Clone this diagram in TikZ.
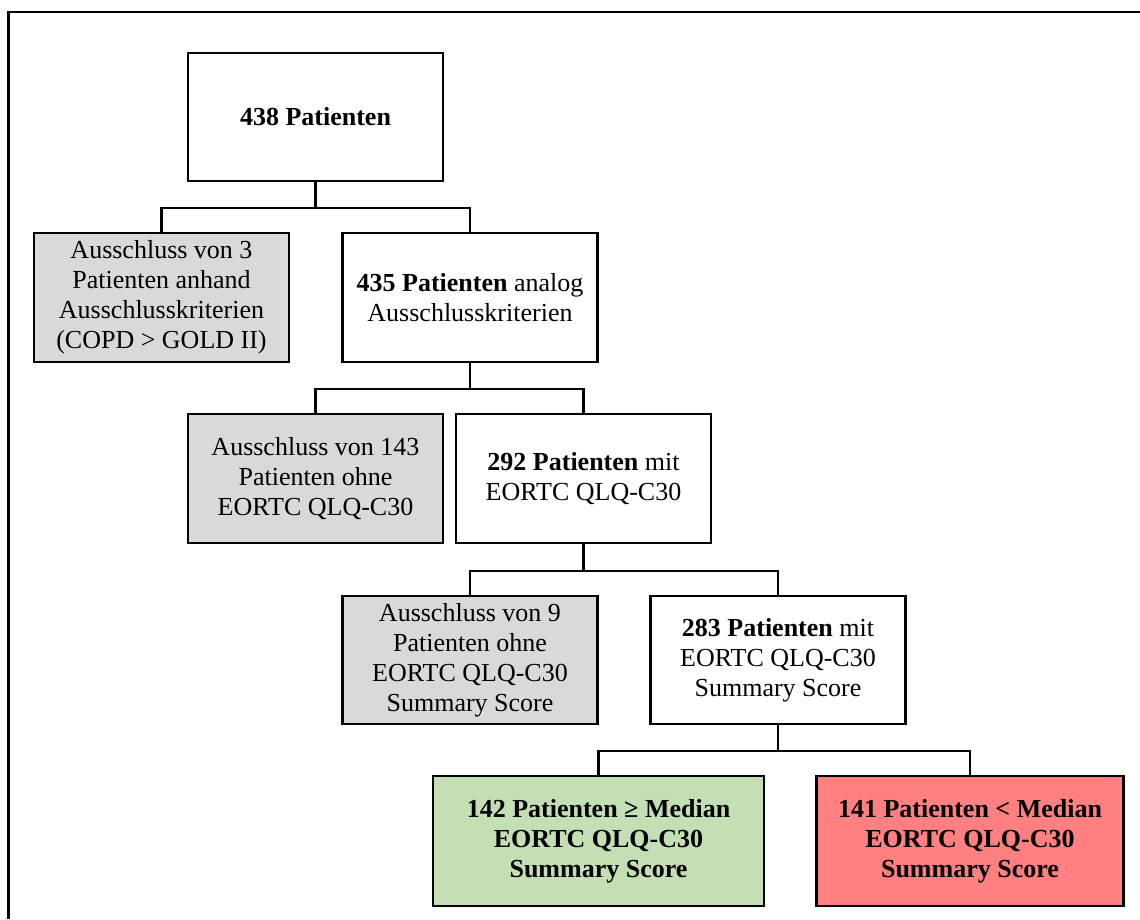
\documentclass[tikz,border=0pt]{standalone}
\usepackage{fontspec}
\setmainfont{Liberation Serif}
\definecolor{greybox}{HTML}{D9D9D9}
\definecolor{greenbox}{HTML}{C4DFB4}
\definecolor{redbox}{HTML}{FF8080}
\begin{document}
\begin{tikzpicture}[x=1pt,y=-1pt,
  box/.style={draw, line width=2.2pt, minimum width=255pt, minimum height=129pt, inner sep=0pt, align=center, font={\fontsize{26}{30}\selectfont}},
  excl/.style={box, fill=greybox},
  conn/.style={line width=2.2pt}]
\useasboundingbox (0,0) rectangle (1140,919);
\draw[line width=2.2pt] (8.5,919) -- (8.5,12) -- (1140,12);
\node[box, minimum height=128pt] (b1) at (315.5,117) {\textbf{438 Patienten}};
\node[excl] (b2) at (161.5,297.5) {Ausschluss von 3\\Patienten anhand\\Ausschlusskriterien\\(COPD > GOLD II)};
\node[box] (b3) at (470,297.5) {\textbf{435 Patienten} analog\\Ausschlusskriterien};
\node[excl] (b4) at (315.5,478.5) {Ausschluss von 143\\Patienten ohne\\EORTC QLQ-C30};
\node[box] (b5) at (583.5,478.5) {\textbf{292 Patienten} mit\\EORTC QLQ-C30};
\node[excl, minimum height=128pt] (b6) at (470,660) {Ausschluss von 9\\Patienten ohne\\EORTC QLQ-C30\\Summary Score};
\node[box, minimum height=128pt] (b7) at (778,660) {\textbf{283 Patienten} mit\\EORTC QLQ-C30\\Summary Score};
\node[box, fill=greenbox, minimum width=331pt, minimum height=130pt, font={\fontsize{26}{30}\selectfont\bfseries}] (b8) at (598.5,841) {142 Patienten ≥ Median\\EORTC QLQ-C30\\Summary Score};
\node[box, fill=redbox, minimum width=307pt, minimum height=130pt, font={\fontsize{26}{30}\selectfont\bfseries}] (b9) at (970,841) {141 Patienten < Median\\EORTC QLQ-C30\\Summary Score};
\draw[conn] (b1.south) -- ++(0,26) -| (b2.north);
\draw[conn] (b1.south) -- ++(0,26) -| (b3.north);
\draw[conn] (b3.south) -- ++(0,26) -| (b4.north);
\draw[conn] (b3.south) -- ++(0,26) -| (b5.north);
\draw[conn] (b5.south) -- ++(0,26.5) -| (b6.north);
\draw[conn] (b5.south) -- ++(0,26.5) -| (b7.north);
\draw[conn] (b7.south) -- ++(0,26) -| (b8.north);
\draw[conn] (b7.south) -- ++(0,26) -| (b9.north);
\end{tikzpicture}
\end{document}
